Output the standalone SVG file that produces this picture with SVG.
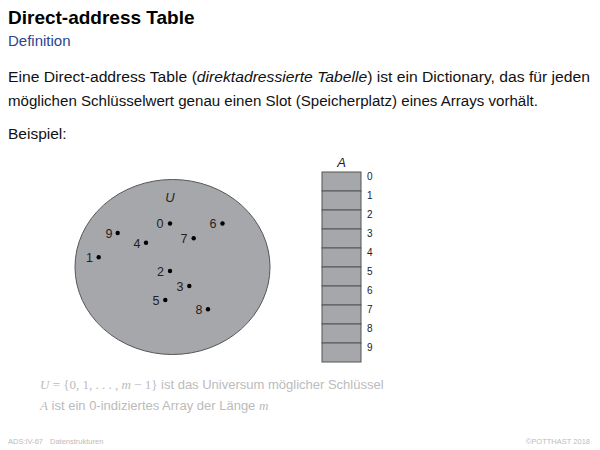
<svg xmlns="http://www.w3.org/2000/svg" width="600" height="450" viewBox="0 0 600 450">
<style>
text{font-family:"Liberation Sans",Arial,sans-serif}
.title{font-size:19px;font-weight:bold;fill:#000}
.sub{font-size:15px;fill:#2b4590}
.body{font-size:15.5px;fill:#111}
.dig{font-size:12.5px;fill:#222;text-anchor:middle}
.idx{font-size:10px;fill:#222}
.dot{fill:#000}
.cell{fill:#a6a7aa;stroke:#555;stroke-width:1}
.note{font-size:13px;fill:#bbb}
.math{font-family:"Liberation Serif","Times New Roman",serif;font-style:italic}
.mrm{font-family:"Liberation Serif","Times New Roman",serif}
.foot{font-size:7.5px;fill:#bbb}
</style>
<rect width="600" height="450" fill="#fff"/>
<text class="title" x="8" y="24">Direct-address Table</text>
<text class="sub" x="8" y="46">Definition</text>
<text class="body" x="8" y="82" textLength="582" lengthAdjust="spacingAndGlyphs">Eine Direct-address Table (<tspan font-style="italic">direktadressierte Tabelle</tspan>) ist ein Dictionary, das für jeden</text>
<text class="body" x="8" y="106" textLength="530" lengthAdjust="spacingAndGlyphs">möglichen Schlüsselwert genau einen Slot (Speicherplatz) eines Arrays vorhält.</text>
<text class="body" x="8" y="139">Beispiel:</text>

<g id="universe">
<ellipse cx="172.5" cy="267" rx="97.5" ry="87.5" fill="#a6a7aa" stroke="#555" stroke-width="1"/>
<text x="170" y="202" font-size="13" font-style="italic" fill="#222" text-anchor="middle">U</text>
</g>
<g id="keys">
<g id="k0"><circle class="dot" cx="170" cy="223.5" r="2.2"/><text class="dig" x="160" y="228">0</text></g>
<g id="k6"><circle class="dot" cx="222.5" cy="223.5" r="2.2"/><text class="dig" x="213" y="228">6</text></g>
<g id="k9"><circle class="dot" cx="117.7" cy="233" r="2.2"/><text class="dig" x="109" y="237.5">9</text></g>
<g id="k4"><circle class="dot" cx="146" cy="242.7" r="2.2"/><text class="dig" x="137" y="247.5">4</text></g>
<g id="k7"><circle class="dot" cx="193.7" cy="238.3" r="2.2"/><text class="dig" x="184" y="243">7</text></g>
<g id="k1"><circle class="dot" cx="98.7" cy="257.3" r="2.2"/><text class="dig" x="89.5" y="262">1</text></g>
<g id="k2"><circle class="dot" cx="170" cy="271" r="2.2"/><text class="dig" x="160.5" y="275.5">2</text></g>
<g id="k3"><circle class="dot" cx="189.3" cy="286" r="2.2"/><text class="dig" x="180" y="290.5">3</text></g>
<g id="k5"><circle class="dot" cx="165.3" cy="300" r="2.2"/><text class="dig" x="156" y="304.5">5</text></g>
<g id="k8"><circle class="dot" cx="208" cy="309.3" r="2.2"/><text class="dig" x="199" y="314">8</text></g>
</g>

<g id="array">
<text x="341.5" y="167" font-size="13" font-style="italic" fill="#222" text-anchor="middle">A</text>
<rect class="cell" x="322" y="172" width="39" height="19"/>
<rect class="cell" x="322" y="191" width="39" height="19"/>
<rect class="cell" x="322" y="210" width="39" height="19"/>
<rect class="cell" x="322" y="229" width="39" height="19"/>
<rect class="cell" x="322" y="248" width="39" height="19"/>
<rect class="cell" x="322" y="267" width="39" height="19"/>
<rect class="cell" x="322" y="286" width="39" height="19"/>
<rect class="cell" x="322" y="305" width="39" height="19"/>
<rect class="cell" x="322" y="324" width="39" height="19"/>
<rect class="cell" x="322" y="343" width="39" height="19"/>
<text class="idx" x="367" y="180">0</text>
<text class="idx" x="367" y="199">1</text>
<text class="idx" x="367" y="218">2</text>
<text class="idx" x="367" y="237">3</text>
<text class="idx" x="367" y="256">4</text>
<text class="idx" x="367" y="275">5</text>
<text class="idx" x="367" y="294">6</text>
<text class="idx" x="367" y="313">7</text>
<text class="idx" x="367" y="332">8</text>
<text class="idx" x="367" y="351">9</text>
</g>

<text class="note" x="40" y="389"><tspan class="math">U</tspan><tspan class="mrm"> = {0, 1, . . . , </tspan><tspan class="math">m</tspan><tspan class="mrm"> − 1}</tspan> ist das Universum möglicher Schlüssel</text>
<text class="note" x="40" y="410"><tspan class="math">A</tspan> ist ein 0-indiziertes Array der Länge <tspan class="math">m</tspan></text>

<text class="foot" x="8" y="444">ADS:IV-67<tspan x="50">Datenstrukturen</tspan></text>
<text class="foot" x="590" y="444" text-anchor="end">©POTTHAST 2018</text>
</svg>
